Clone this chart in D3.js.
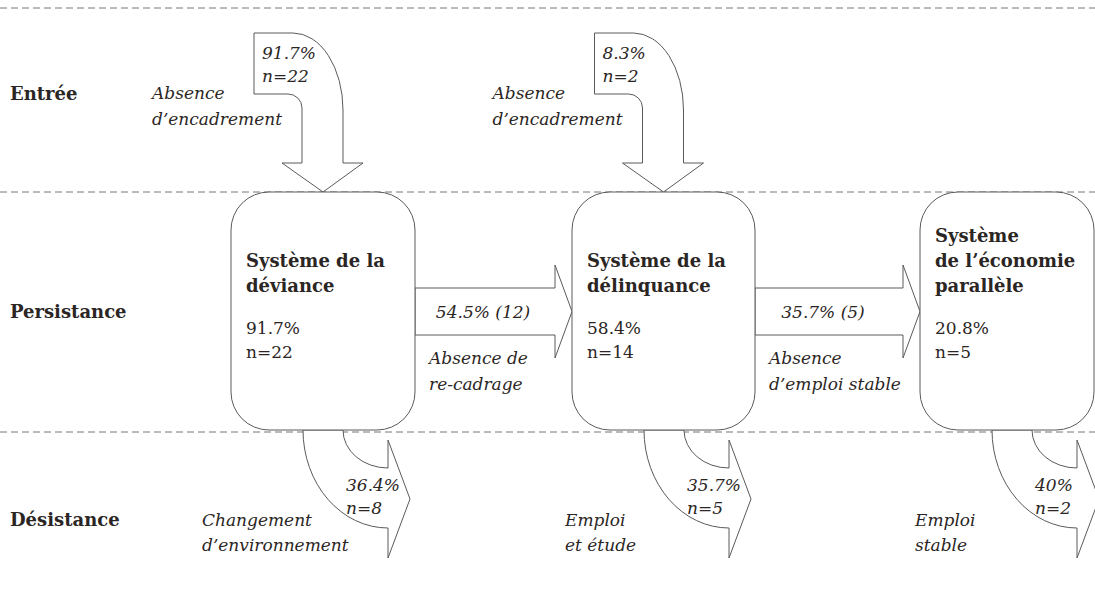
<!DOCTYPE html>
<html>
<head>
<meta charset="utf-8">
<script src="https://cdn.jsdelivr.net/npm/d3@7"></script>
<style>
  body { margin: 0; background: #fff; }
  svg { display: block; }
  text { font-family: "DejaVu Serif", "Liberation Serif", serif; fill: #2b2624; }
  .bold { font-weight: bold; font-size: 18px; }
  .num { font-size: 17px; }
  .it { font-style: italic; font-size: 17px; }
</style>
</head>
<body>
<svg></svg>
<script>
// rows of the diagram
var rows = ["Entrée", "Persistance", "Désistance"];

// the three systems (boxes)
var systemNames = [["Système de la", "déviance"], ["Système de la", "délinquance"], ["Système", "de l’économie", "parallèle"]];
var systemPct = ["91.7%", "58.4%", "20.8%"];
var systemN = [22, 14, 5];

// entry arrows (into system 0 and 1)
var entryTarget = [0, 1];
var entryPct = ["91.7%", "8.3%"];
var entryN = [22, 2];
var entryLabel = [["Absence", "d’encadrement"], ["Absence", "d’encadrement"]];

// transitions between systems
var transPct = ["54.5%", "35.7%"];
var transN = [12, 5];
var transLabel = [["Absence de", "re-cadrage"], ["Absence", "d’emploi stable"]];

// exits (désistance)
var exitPct = ["36.4%", "35.7%", "40%"];
var exitN = [8, 5, 2];
var exitLabel = [["Changement", "d’environnement"], ["Emploi", "et étude"], ["Emploi", "stable"]];

var svgWidth = 1095, svgHeight = 616;
var stroke = "#5a5a5a";

var svg = d3.select("svg")
  .attr("width", svgWidth)
  .attr("height", svgHeight);

var idx = d3.range(systemNames.length);

// scales
var boxX = d3.scaleOrdinal().domain(idx).range([231, 572, 920]);
var boxW = d3.scaleOrdinal().domain(idx).range([184, 183, 174]);
var rowY = d3.scaleOrdinal().domain(rows).range([100, 318, 526]);
var exitLabelX = d3.scaleOrdinal().domain(idx).range([202, 565, 915]);
var bandLines = [8, 192, 432];
var boxTop = 192, boxBottom = 430;

// dashed separators
svg.selectAll("line.sep")
  .data(bandLines)
  .enter()
  .append("line")
  .attr("class", "sep")
  .attr("x1", 0).attr("x2", svgWidth)
  .attr("y1", function (d) { return d; })
  .attr("y2", function (d) { return d; })
  .attr("stroke", "#777")
  .attr("stroke-width", 1)
  .attr("stroke-dasharray", "7,4");

// row labels
svg.selectAll("text.row")
  .data(rows)
  .enter()
  .append("text")
  .attr("class", "row bold")
  .attr("x", 10)
  .attr("y", function (d) { return rowY(d); })
  .text(function (d) { return d; });

// exit arrows (drawn before boxes so boxes sit on top)
var exitG = svg.selectAll("g.exit")
  .data(idx)
  .enter()
  .append("g")
  .attr("class", "exit");

exitG.append("path")
  .attr("fill", "#fff")
  .attr("stroke", stroke)
  .attr("stroke-width", 1)
  .attr("d", function (i) {
    var L = boxX(i);
    var o = L + 72, n = L + 112, e = L + 157, tip = L + 179;
    return "M" + o + "," + boxBottom +
      " A" + (e - o) + "," + (528 - boxBottom) + " 0 0 0 " + e + ",528" +
      " L" + e + ",558 L" + tip + ",499 L" + e + ",440 L" + e + ",468" +
      " A" + (e - n) + "," + (468 - boxBottom) + " 0 0 1 " + n + "," + boxBottom + " Z";
  });

exitG.append("text")
  .attr("class", "it")
  .attr("x", function (i) { return boxX(i) + 115; })
  .attr("y", 491)
  .text(function (i) { return exitPct[i]; });

exitG.append("text")
  .attr("class", "it")
  .attr("x", function (i) { return boxX(i) + 115; })
  .attr("y", 514)
  .text(function (i) { return "n=" + exitN[i]; });

exitG.each(function (i) {
  d3.select(this).selectAll("text.lab")
    .data(exitLabel[i])
    .enter()
    .append("text")
    .attr("class", "lab it")
    .attr("x", exitLabelX(i))
    .attr("y", function (d, k) { return rowY("Désistance") + k * 25; })
    .text(function (d) { return d; });
});

// entry arrows
var entryG = svg.selectAll("g.entry")
  .data(entryTarget)
  .enter()
  .append("g")
  .attr("class", "entry");

entryG.append("path")
  .attr("fill", "#fff")
  .attr("stroke", stroke)
  .attr("stroke-width", 1)
  .attr("d", function (t) {
    var A = boxX(t) + boxW(t) / 2 - 69;
    return "M" + A + ",33 L" + (A + 39) + ",33" +
      " A50,77 0 0 1 " + (A + 89) + ",110" +
      " L" + (A + 89) + ",163 L" + (A + 109) + ",163 L" + (A + 69) + "," + boxTop +
      " L" + (A + 28) + ",163 L" + (A + 48) + ",163 L" + (A + 48) + ",108" +
      " A14,14 0 0 0 " + (A + 34) + ",94 L" + A + ",94 Z";
  });

entryG.append("text")
  .attr("class", "it")
  .attr("x", function (t) { return boxX(t) + boxW(t) / 2 - 61; })
  .attr("y", 59)
  .text(function (t, k) { return entryPct[k]; });

entryG.append("text")
  .attr("class", "it")
  .attr("x", function (t) { return boxX(t) + boxW(t) / 2 - 61; })
  .attr("y", 82)
  .text(function (t, k) { return "n=" + entryN[k]; });

entryG.each(function (t, k) {
  d3.select(this).selectAll("text.lab")
    .data(entryLabel[k])
    .enter()
    .append("text")
    .attr("class", "lab it")
    .attr("x", boxX(t) + boxW(t) / 2 - 171)
    .attr("y", function (d, j) { return 99 + j * 26; })
    .text(function (d) { return d; });
});

// transition arrows
var transG = svg.selectAll("g.trans")
  .data(d3.range(transPct.length))
  .enter()
  .append("g")
  .attr("class", "trans");

transG.append("path")
  .attr("fill", "#fff")
  .attr("stroke", stroke)
  .attr("stroke-width", 1)
  .attr("d", function (i) {
    var R = boxX(i) + boxW(i), N = boxX(i + 1), b = N - 17;
    return "M" + R + ",288 L" + b + ",288 L" + b + ",265 L" + N + ",311.5 L" + b + ",358 L" + b + ",335 L" + R + ",335 Z";
  });

transG.append("text")
  .attr("class", "it")
  .attr("text-anchor", "middle")
  .attr("x", function (i) { return boxX(i) + boxW(i) + 68; })
  .attr("y", 318)
  .text(function (i) { return transPct[i] + " (" + transN[i] + ")"; });

transG.each(function (i) {
  d3.select(this).selectAll("text.lab")
    .data(transLabel[i])
    .enter()
    .append("text")
    .attr("class", "lab it")
    .attr("x", boxX(i) + boxW(i) + 14)
    .attr("y", function (d, j) { return 364 + j * 26; })
    .text(function (d) { return d; });
});

// system boxes
var boxG = svg.selectAll("g.box")
  .data(idx)
  .enter()
  .append("g")
  .attr("class", "box");

boxG.append("rect")
  .attr("x", function (i) { return boxX(i); })
  .attr("y", boxTop)
  .attr("width", function (i) { return boxW(i); })
  .attr("height", boxBottom - boxTop)
  .attr("rx", 38)
  .attr("ry", 38)
  .attr("fill", "#fff")
  .attr("stroke", stroke)
  .attr("stroke-width", 1);

boxG.each(function (i) {
  var g = d3.select(this);
  var lines = systemNames[i];
  var firstY = 292 - (lines.length - 1) * 25;
  g.selectAll("text.name")
    .data(lines)
    .enter()
    .append("text")
    .attr("class", "name bold")
    .attr("x", boxX(i) + 15)
    .attr("y", function (d, k) { return firstY + k * 25; })
    .text(function (d) { return d; });
  g.append("text")
    .attr("class", "num")
    .attr("x", boxX(i) + 15)
    .attr("y", 334)
    .text(systemPct[i]);
  g.append("text")
    .attr("class", "num")
    .attr("x", boxX(i) + 15)
    .attr("y", 358)
    .text("n=" + systemN[i]);
});
</script>
</body>
</html>
